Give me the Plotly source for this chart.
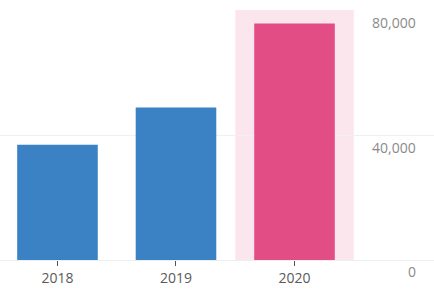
import plotly.graph_objects as go

categories = ["2018", "2019", "2020"]
values = [37000, 49000, 76000]
highlight = "2020"
y_ticks = [0, 40000, 80000]
y_tick_text = ["0", "40,000", "80,000"]

BLUE = "#3a82c4"
PINK = "#e34d86"
BAND = "#fce6ee"

colors = [PINK if c == highlight else BLUE for c in categories]
hi = categories.index(highlight)

fig = go.Figure()
fig.add_trace(go.Bar(
    x=list(range(len(categories))), y=values,
    marker=dict(color=colors, line=dict(width=0)),
    width=0.68, hoverinfo="skip",
))
fig.add_shape(type="rect", xref="x", yref="y domain",
              x0=hi - 0.5, x1=hi + 0.5, y0=0, y1=1,
              fillcolor=BAND, line=dict(width=0), layer="below")

for v, t in zip(y_ticks, y_tick_text):
    fig.add_annotation(x=1, xref="paper", y=v, yref="y", text=t,
                       xanchor="right", yanchor="top", showarrow=False,
                       xshift=-16, yshift=0,
                       font=dict(family="Open Sans", size=14, color="#8a8a8a"))

fig.update_layout(
    width=434, height=299,
    margin=dict(l=0, r=0, t=10, b=39),
    paper_bgcolor="white", plot_bgcolor="white",
    showlegend=False,
    font=dict(family="Open Sans", size=14, color="#666"),
)
fig.update_xaxes(
    range=[-0.485, 3.177],
    tickmode="array", tickvals=list(range(len(categories))), ticktext=categories,
    ticks="outside", ticklen=5, tickcolor="#555", tickwidth=1,
    showgrid=False, zeroline=False, showline=False,
    tickfont=dict(color="#5a5a5a", size=14),
)
fig.update_yaxes(
    side="right", range=[0, 80320],
    tickmode="array", tickvals=y_ticks, showticklabels=False,
    showgrid=True, gridcolor="#f0f0f0", gridwidth=1,
    zeroline=True, zerolinecolor="#eeeeee", zerolinewidth=1,
    showline=False, ticks="",
)

fig.write_html("out.html")
